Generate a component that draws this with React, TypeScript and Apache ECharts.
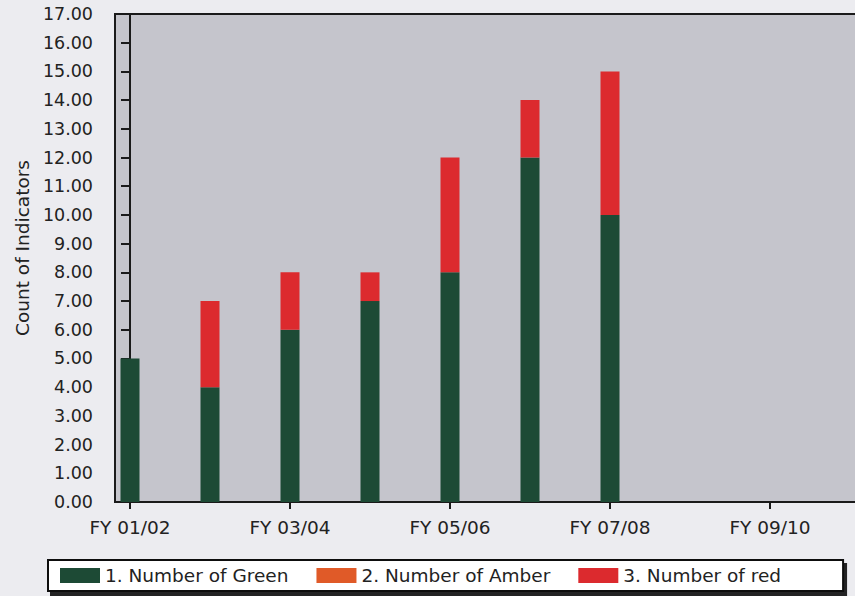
import React, { useEffect, useRef } from "react";
import * as echarts from "echarts";

const categories = [
  "FY 01/02", "FY 02/03", "FY 03/04", "FY 04/05", "FY 05/06",
  "FY 06/07", "FY 07/08", "FY 08/09", "FY 09/10", "FY 10/11",
];
const labelledIndex = [0, 2, 4, 6, 8];
const greenValues = [5, 4, 6, 7, 8, 12, 10];
const amberValues = [0, 0, 0, 0, 0, 0, 0];
const redValues = [0, 3, 2, 1, 4, 2, 5];
const seriesNames = ["1. Number of Green", "2. Number of Amber", "3. Number of red"];
const yTicks = { min: 0, max: 17, interval: 1 };

const FONT = "'DejaVu Sans', Verdana, sans-serif";

export default function App() {
  const ref = useRef<HTMLDivElement>(null);
  useEffect(() => {
    if (!ref.current) return;
    const chart = echarts.init(ref.current, null, { renderer: "svg" });
    const colors = ["#1d4a35", "#e05a28", "#dc2a2e"];
    const raw = [greenValues, amberValues, redValues];
    chart.setOption({
      animation: false,
      backgroundColor: "#ececf0",
      textStyle: { fontFamily: FONT },
      grid: {
        left: 115,
        top: 14,
        bottom: 94,
        right: 10,
        show: true,
        backgroundColor: "#c5c5cc",
        borderColor: "#1a1a1a",
        borderWidth: 2,
        containLabel: false,
        outerBoundsMode: "none",
      },
      xAxis: {
        type: "value",
        min: -0.1875,
        max: 9.5,
        splitLine: { show: false },
        axisLine: { show: true, onZero: false, lineStyle: { color: "#1a1a1a", width: 2 } },
        axisTick: {
          show: true,
          length: 7,
          customValues: labelledIndex,
          lineStyle: { color: "#1a1a1a", width: 2 },
        },
        axisLabel: {
          customValues: labelledIndex,
          formatter: (v: number) => categories[Math.round(v)] ?? "",
          fontSize: 18.5,
          color: "#222",
          margin: 16,
          fontFamily: FONT,
        },
      },
      yAxis: {
        type: "value",
        min: yTicks.min,
        max: yTicks.max,
        interval: yTicks.interval,
        name: "Count of Indicators",
        nameLocation: "middle",
        nameRotate: 90,
        nameGap: 77,
        nameTextStyle: {
          fontSize: 18.5,
          color: "#222",
          fontFamily: FONT,
          padding: [0, 0, 0, 20],
        },
        splitLine: { show: false },
        axisLine: { show: true, lineStyle: { color: "#1a1a1a", width: 2 } },
        axisTick: { show: true, length: 9, lineStyle: { color: "#1a1a1a", width: 2 } },
        axisLabel: {
          formatter: (v: number) => v.toFixed(2),
          fontSize: 17.5,
          color: "#222",
          margin: 22,
          fontFamily: FONT,
        },
      },
      legend: {
        left: 48,
        top: 560,
        padding: [6, 62, 6, 12],
        itemWidth: 40,
        itemHeight: 15,
        itemGap: 28,
        backgroundColor: "#ffffff",
        borderColor: "#111",
        borderWidth: 2,
        borderRadius: 0,
        shadowColor: "rgba(0,0,0,0.85)",
        shadowBlur: 0,
        shadowOffsetX: 3,
        shadowOffsetY: 4,
        textStyle: { fontSize: 18.5, color: "#222", fontFamily: FONT },
        data: seriesNames.map((n) => ({ name: n, icon: "rect" })),
      },
      series: seriesNames.map((name, k) => ({
        name,
        type: "bar",
        stack: "total",
        barWidth: 19,
        encode: { x: 1, y: 0 },
        dimensions: ["count", "period"],
        itemStyle: { color: colors[k] },
        data: raw[k].map((v, i) => [v, i]),
      })),
    });
    return () => chart.dispose();
  }, []);
  return (
    <div
      style={{
        position: "fixed",
        left: 0,
        top: 0,
        width: 855,
        height: 596,
        overflow: "hidden",
      }}
    >
      <div ref={ref} style={{ width: 900, height: 596 }} />
    </div>
  );
}
